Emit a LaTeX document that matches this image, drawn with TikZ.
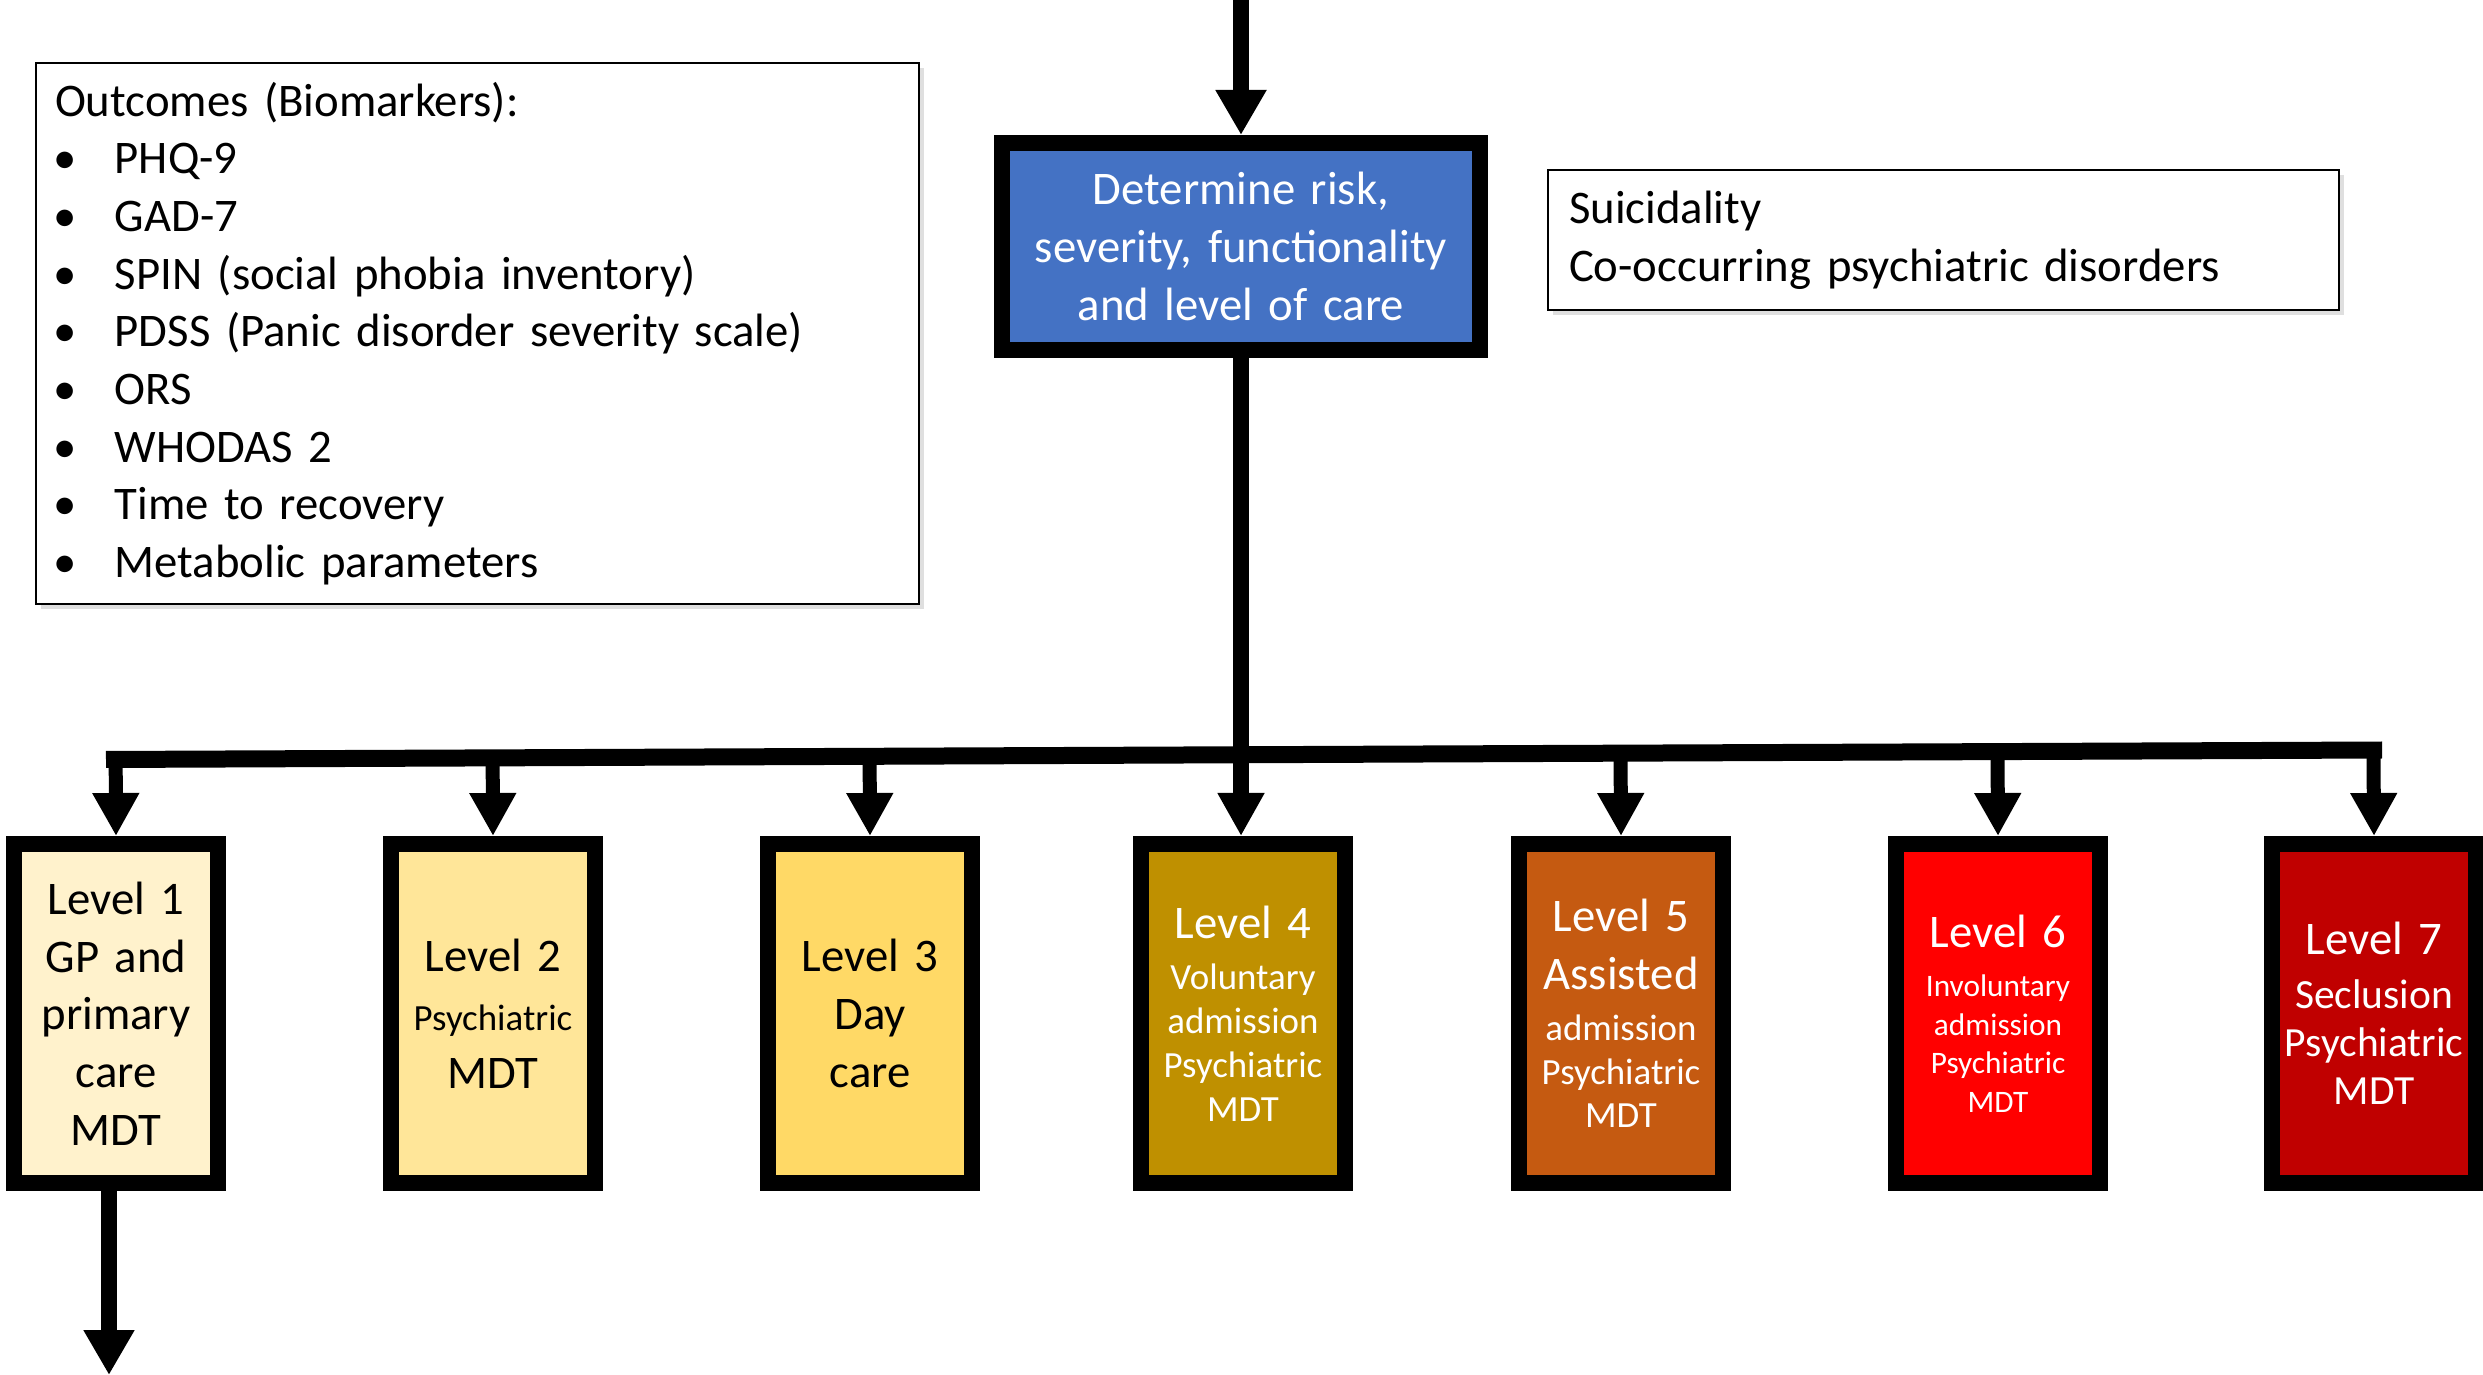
\documentclass[tikz,border=0pt]{standalone}
\usepackage{fontspec}
\setmainfont{Carlito}
\usetikzlibrary{arrows.meta,calc,positioning,shadows}
\definecolor{riskblue}{HTML}{4472C4}
\definecolor{lvone}{HTML}{FFF2CC}
\definecolor{lvtwo}{HTML}{FFE699}
\definecolor{lvthree}{HTML}{FFD966}
\definecolor{lvfour}{HTML}{BF9000}
\definecolor{lvfive}{HTML}{C55A11}
\definecolor{lvsix}{HTML}{FF0000}
\definecolor{lvseven}{HTML}{C00000}
\newcommand\fbig{\fontsize{13.3}{16.4}\selectfont}
\newcommand\fmid{\fontsize{11.8}{13.7}\selectfont}
\newcommand\fsmall{\fontsize{10.5}{12.5}\selectfont}
\newcommand\ftiny{\fontsize{8.9}{11}\selectfont}
\newcommand\itm{\makebox[17pt][l]{\hspace{-0.5pt}\textbullet}}

\begin{document}
\begin{tikzpicture}[
	lvl/.style = {draw=black, line width=0.16cm, minimum width=2.04cm, minimum height=3.39cm,
		text width=1.9cm, align=center, inner sep=0pt, font=\fbig},
	note/.style = {draw=black, line width=0.6pt, fill=white, align=left, font=\fbig,
		drop shadow={shadow xshift=0.05cm, shadow yshift=-0.05cm, fill=black!25, opacity=0.5}},
	arr/.style = {line width=0.14cm, -{Triangle[width=0.44cm, length=0.43cm]}},
	bigarr/.style = {line width=0.16cm, -{Triangle[width=0.48cm, length=0.45cm]}}
	]
	\useasboundingbox (0,0) rectangle (24.83,-13.75);

	% notes
	\node[note, anchor=north west, minimum width=8.83cm, minimum height=5.41cm,
		text width=8.45cm, inner sep=0.19cm] (outc) at (0.35,-0.62) {
		Outcomes (Biomarkers):\par
		\itm PHQ-9\par
		\itm GAD-7\par
		\itm SPIN (social phobia inventory)\par
		\itm PDSS (Panic disorder severity scale)\par
		\itm ORS\par
		\itm WHODAS 2\par
		\itm Time to recovery\par
		\itm Metabolic parameters\par};
	\node[note, anchor=north west, minimum width=7.91cm, minimum height=1.35cm,
		text width=7.49cm, inner sep=0.21cm] (suic) at (15.47,-1.69) {
		Suicidality\par
		Co-occurring psychiatric disorders\par};

	% assessment
	\node[draw=black, line width=0.16cm, fill=riskblue, text=white, minimum width=4.78cm,
		minimum height=2.07cm, text width=4.6cm, align=center, inner sep=0pt, font=\fbig]
		(risk) at (12.41,-2.465)
		{Determine risk,\par severity, functionality\par and level of care\par};

	% levels of care
	\node[lvl, fill=lvone] (lv1) at (1.16,-10.135)
		{Level 1\par GP and\par primary\par care\par MDT\par};
	\node[lvl, fill=lvtwo] (lv2) at (4.93,-10.135)
		{Level 2\par\vspace{4.5pt}\fsmall Psychiatric\par\fbig MDT\par};
	\node[lvl, fill=lvthree] (lv3) at (8.70,-10.135)
		{Level 3\par Day\par care\par};
	\node[lvl, fill=lvfour, text=white] (lv4) at (12.43,-10.135)
		{Level 4\par\vspace{2pt}\fsmall Voluntary\par admission\par Psychiatric\par MDT\par};
	\node[lvl, fill=lvfive, text=white] (lv5) at (16.21,-10.135)
		{Level 5\par Assisted\par\vspace{2pt}\fsmall admission\par Psychiatric\par MDT\par};
	\node[lvl, fill=lvsix, text=white] (lv6) at (19.98,-10.135)
		{Level 6\par\vspace{3pt}\ftiny Involuntary\par admission\par Psychiatric\par MDT\par};
	\node[lvl, fill=lvseven, text=white] (lv7) at (23.74,-10.135)
		{Level 7\par\vspace{1.5pt}\fmid Seclusion\par Psychiatric\par MDT\par};

	% connectors
	\coordinate (entry) at (risk.north |- 0,0);
	\coordinate (exit) at (1.09,-13.75);
	\coordinate (barL) at (1.06,-7.595);
	\coordinate (barR) at (23.82,-7.50);
	\draw[bigarr] (entry) -- (risk.north);
	\draw[line width=0.17cm] (barL) -- (barR);
	\draw[arr, line width=0.16cm] (risk.south) -- (risk.south |- lv4.north);
	\foreach \i in {1,2,3,5,6,7}{
		\draw[arr] ($(barL)!(lv\i.north)!(barR)$) -- (lv\i.north);
		};
	\draw[bigarr] (lv1.south -| exit) -- (exit);
\end{tikzpicture}
\end{document}
